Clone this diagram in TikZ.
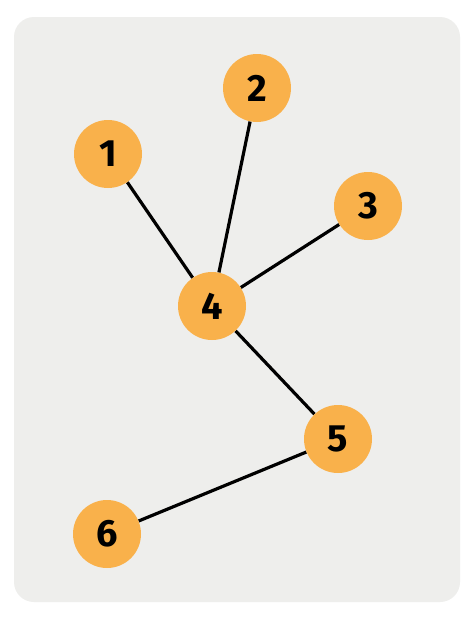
\documentclass[tikz,border=0pt]{standalone}
\usepackage{fontspec}
\setmainfont{Fira Sans}
\usetikzlibrary{backgrounds}
\definecolor{bg}{HTML}{EEEEEC}
\definecolor{nodeor}{HTML}{F9B14B}
\begin{document}
\begin{tikzpicture}[x=1pt,y=-1pt,
  vert/.style={circle,fill=nodeor,minimum size=68pt,inner sep=0pt,font=\fontsize{38}{38}\selectfont\bfseries},
  edge/.style={line width=3.2pt,black}]
\useasboundingbox (0,0) rectangle (474,619);
\node[vert] (n1) at (108,154) {1};
\node[vert] (n2) at (257,88) {2};
\node[vert] (n3) at (368,206) {3};
\node[vert] (n4) at (212,306) {4};
\node[vert] (n5) at (338,439) {5};
\node[vert] (n6) at (107,534) {6};
\begin{scope}[on background layer]
\fill[white] (0,0) rectangle (474,619);
\fill[bg,rounded corners=20pt] (14,17) rectangle (460,602);
\draw[edge] (n1) -- (n4);
\draw[edge] (n2) -- (n4);
\draw[edge] (n3) -- (n4);
\draw[edge] (n4) -- (n5);
\draw[edge] (n5) -- (n6);
\end{scope}
\end{tikzpicture}
\end{document}
